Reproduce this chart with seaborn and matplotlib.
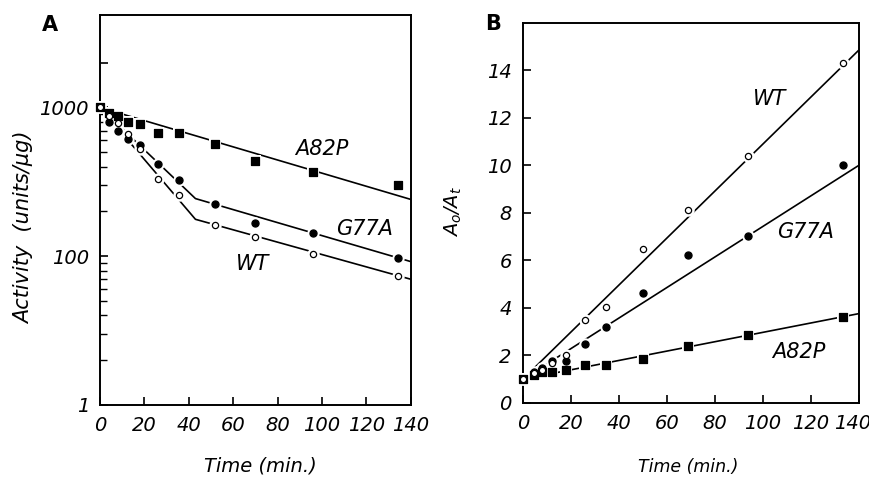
import numpy as np
import pandas as pd
import matplotlib
matplotlib.use("Agg")
import matplotlib.pyplot as plt
import matplotlib.ticker as mticker
import matplotlib.transforms as mtransforms
import seaborn as sns

# Panel A: residual activity (units/ug), log scale
time_a = [0, 4, 8, 12.5, 18, 26, 35.5, 52, 70, 96, 134.5]
wt_act = [1000, 870, 784, 665, 524, 329, 258, 162, 134, 104, 73]
g77a_act = [1000, 800, 696, 612, 557, 417, 324, 226, 168, 144, 97]
a82p_act = [1000, 915, 870, 800, 772, 671, 671, 569, 437, 371, 300]

# fitted lines of panel A (break points)
wt_fit_t = [0, 43, 140]
wt_fit_v = [1000, 177, 70]
g77a_fit_t = [0, 43, 140]
g77a_fit_v = [1000, 244, 92]
a82p_fit_t = [0, 140]
a82p_fit_v = [1000, 241]

# Panel B: A0/At
time_b = [0, 4.5, 8, 12, 18, 26, 34.5, 50, 69, 94, 133.5]
wt_ratio = [1.0, 1.25, 1.4, 1.7, 2.02, 3.49, 4.05, 6.48, 8.13, 10.4, 14.3]
g77a_ratio = [1.0, 1.32, 1.46, 1.78, 1.78, 2.48, 3.21, 4.65, 6.23, 7.04, 10.02]
a82p_ratio = [1.0, 1.18, 1.32, 1.32, 1.39, 1.6, 1.6, 1.85, 2.41, 2.86, 3.63]

wt_line_t = [4, 140]
wt_line_v = [1.4, 14.85]
g77a_line_t = [0, 140]
g77a_line_v = [1.0, 10.0]
a82p_line_t = [0, 140]
a82p_line_v = [1.0, 3.76]

sns.set_style("ticks")
plt.rcParams["font.family"] = ["DejaVu Sans"]
plt.rcParams["font.style"] = "italic"
plt.rcParams["mathtext.fontset"] = "dejavusans"
plt.rcParams["mathtext.default"] = "it"
plt.rcParams["text.color"] = "black"
plt.rcParams["xtick.color"] = "black"
plt.rcParams["ytick.color"] = "black"

fig = plt.figure(figsize=(8.7, 4.78), dpi=100)
ax_a = fig.add_axes([0.115, 0.153, 0.357, 0.816])
ax_b = fig.add_axes([0.601, 0.157, 0.386, 0.795])

styles = {
    "WT": dict(marker="o", face="white", size=20),
    "G77A": dict(marker="o", face="black", size=26),
    "A82P": dict(marker="s", face="black", size=26),
}


def draw_points(ax, t, v, name):
    st = styles[name]
    df = pd.DataFrame({"t": t, "v": v})
    # white halo so the line breaks around each symbol
    sns.scatterplot(data=df, x="t", y="v", ax=ax, marker=st["marker"], s=80,
                    color="white", edgecolor="white", linewidth=0, zorder=3,
                    clip_on=False)
    sns.scatterplot(data=df, x="t", y="v", ax=ax, marker=st["marker"], s=st["size"],
                    color=st["face"], edgecolor="black", linewidth=0.9, zorder=4,
                    clip_on=False)


def draw_line(ax, t, v):
    df = pd.DataFrame({"t": t, "v": v})
    sns.lineplot(data=df, x="t", y="v", ax=ax, color="black", linewidth=1.2,
                 sort=False, zorder=2)


# ---- panel A
draw_line(ax_a, wt_fit_t, wt_fit_v)
draw_line(ax_a, g77a_fit_t, g77a_fit_v)
draw_line(ax_a, a82p_fit_t, a82p_fit_v)
draw_points(ax_a, time_a, a82p_act, "A82P")
draw_points(ax_a, time_a, g77a_act, "G77A")
draw_points(ax_a, time_a, wt_act, "WT")

ax_a.set_yscale("log")
ax_a.set_xlim(0, 140)
ax_a.set_ylim(10, 4200)
ax_a.set_xticks(range(0, 141, 20))
ax_a.set_yticks([10, 100, 1000, 2000])
ax_a.set_yticklabels(["1", "100", "1000", ""])
ax_a.yaxis.set_minor_locator(mticker.FixedLocator(
    [20, 30, 40, 50, 60, 70, 80, 90, 200, 300, 400, 500, 600, 700, 800, 900]))
ax_a.yaxis.set_minor_formatter(mticker.NullFormatter())
ax_a.set_xlabel("")
ax_a.set_ylabel("")
ax_a.text(100, 524, "A82P", fontsize=15, ha="center", va="center")
ax_a.text(119, 152, "G77A", fontsize=15, ha="center", va="center")
ax_a.text(69, 88, "WT", fontsize=15, ha="center", va="center")

# ---- panel B
draw_line(ax_b, wt_line_t, wt_line_v)
draw_line(ax_b, g77a_line_t, g77a_line_v)
draw_line(ax_b, a82p_line_t, a82p_line_v)
draw_points(ax_b, time_b, a82p_ratio, "A82P")
draw_points(ax_b, time_b, g77a_ratio, "G77A")
draw_points(ax_b, time_b, wt_ratio, "WT")

ax_b.set_xlim(0, 140)
ax_b.set_ylim(0, 16)
ax_b.set_xticks(range(0, 141, 20))
ax_b.set_yticks(range(0, 15, 2))
ax_b.set_xlabel("")
ax_b.set_ylabel("")
ax_b.text(103, 12.8, "WT", fontsize=15, ha="center", va="center")
ax_b.text(118, 7.2, "G77A", fontsize=15, ha="center", va="center")
ax_b.text(115, 2.16, "A82P", fontsize=15, ha="center", va="center")

for ax in (ax_a, ax_b):
    for sp in ax.spines.values():
        sp.set_visible(True)
        sp.set_linewidth(1.4)
        sp.set_color("black")
    ax.tick_params(which="major", direction="in", length=6, width=1.2,
                   labelsize=14, pad=8, colors="black")
    ax.tick_params(which="minor", direction="in", length=5, width=1.0,
                   colors="black")
    ax.tick_params(axis="x", top=False)
    ax.tick_params(axis="y", right=False)
    for lab in ax.get_xticklabels() + ax.get_yticklabels():
        lab.set_style("italic")

# keep the last tick label of panel B inside the canvas
last = ax_b.get_xticklabels()[-1]
last.set_transform(last.get_transform() +
                   mtransforms.ScaledTranslation(-6 / 100, 0, fig.dpi_scale_trans))

fig.text(50 / 870, 1 - 25 / 478, "A", fontsize=15, fontweight="bold",
         style="normal", ha="center", va="center")
fig.text(493 / 870, 1 - 24 / 478, "B", fontsize=15, fontweight="bold",
         style="normal", ha="center", va="center")
fig.text(24 / 870, 1 - 228 / 478, "Activity  (units/\u03bcg)", fontsize=15,
         rotation=90, ha="center", va="center")
fig.text(260 / 870, 1 - 466 / 478, "Time (min.)", fontsize=14,
         ha="center", va="center")
fig.text(688 / 870, 1 - 467 / 478, "Time (min.)", fontsize=12.5,
         ha="center", va="center")
fig.text(453 / 870, 1 - 212 / 478, r"$A_o/A_t$", fontsize=14,
         rotation=90, ha="center", va="center")

fig.savefig("out.png", dpi=100, facecolor="white")
